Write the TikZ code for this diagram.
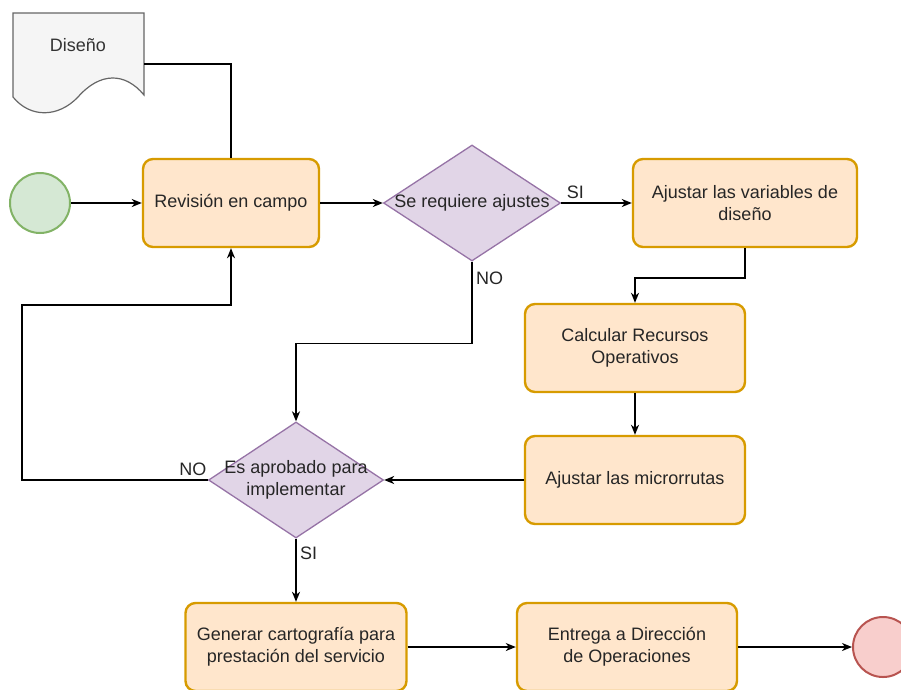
\documentclass[tikz,border=0pt]{standalone}
\usepackage{fontspec}
\setmainfont{Liberation Sans}
\usetikzlibrary{arrows.meta,shapes.geometric}
\definecolor{boxfill}{HTML}{FFE6CC}
\definecolor{boxline}{HTML}{D79B00}
\definecolor{askfill}{HTML}{E1D5E7}
\definecolor{askline}{HTML}{9673A6}
\definecolor{startfill}{HTML}{D5E8D4}
\definecolor{startline}{HTML}{82B366}
\definecolor{endfill}{HTML}{F8CECC}
\definecolor{endline}{HTML}{B85450}
\definecolor{docfill}{HTML}{F5F5F5}
\definecolor{docline}{HTML}{666666}
\definecolor{doctext}{HTML}{333333}
\newcommand{\asktext}[1]{\makebox[0pt]{\begin{tabular}{@{}c@{}}#1\end{tabular}}}
\begin{document}
\begin{tikzpicture}[x=1pt,y=-1pt,
		every node/.style={font=\fontsize{18}{22}\selectfont, text=black!85},
		task/.style={draw=boxline, fill=boxfill, line width=2.4pt, rounded corners=10pt,
			minimum width=176pt, minimum height=88pt, align=center},
		ask/.style={diamond, draw=askline, fill=askfill, line width=1.3pt, inner sep=0pt,
			minimum width=177pt, minimum height=116pt},
		event/.style={circle, line width=2pt, minimum size=60pt, inner sep=0pt},
		line/.style={line width=1.5pt, black},
		flow/.style={line, -{Stealth[length=10pt,width=8pt,inset=3pt]}}]
		\useasboundingbox (0,0) rectangle (901,689);
		% document
		\draw[docline, fill=docfill, line width=1.2pt] (13,13) -- (144,13) -- (144,95)
			.. controls (125,72) and (100,72) .. (78,97)
			.. controls (58,118) and (30,118) .. (13,97) -- cycle;
		\node[text=doctext] (doc) at (78,45) {Diseño};
		\coordinate (docout) at (144,64);
		% nodes
		\node[event, draw=startline, fill=startfill] (start) at (40,203) {};
		\node[task] (rev) at (231,203) {Revisión en campo};
		\node[ask] (q1) at (472,203) {\asktext{Se requiere ajustes}};
		\node[task, minimum width=224pt] (var) at (745,203) {Ajustar las variables de\\diseño};
		\node[task, minimum width=220pt] (calc) at (635,348) {Calcular Recursos\\Operativos};
		\node[task, minimum width=220pt] (micro) at (635,480) {Ajustar las microrrutas};
		\node[ask, minimum width=175pt] (q2) at (296,480) {\asktext{Es aprobado para\\implementar}};
		\node[task, minimum width=221pt] (gen) at (296,647) {Generar cartografía para\\prestación del servicio};
		\node[task, minimum width=220pt] (ent) at (627,647) {Entrega a Dirección\\de Operaciones};
		\node[event, draw=endline, fill=endfill] (stop) at (883,647) {};
		\coordinate (loop) at (22,305);
		% connectors
		\draw[line] (docout) -| (rev.north);
		\draw[flow] (start) -- (rev);
		\draw[flow] (rev) -- (q1);
		\draw[flow] (q1) -- (var) node[pos=0.2, above] {SI};
		\draw[flow] (var.south) -- ++(0,30) -| (calc.north);
		\draw[flow] (calc) -- (micro);
		\draw[flow] (micro) -- (q2);
		\draw[flow] (q1.south) -- ++(0,82) node[pos=0.2, right] {NO} -| (q2.north);
		\draw[flow] (q2.west) -- (q2.west -| loop) node[pos=0.08, above] {NO} -- (loop) -| (rev.south);
		\draw[flow] (q2.south) -- (gen.north) node[pos=0.23, right] {SI};
		\draw[flow] (gen) -- (ent);
		\draw[flow] (ent) -- (stop);
	\end{tikzpicture}
\end{document}
